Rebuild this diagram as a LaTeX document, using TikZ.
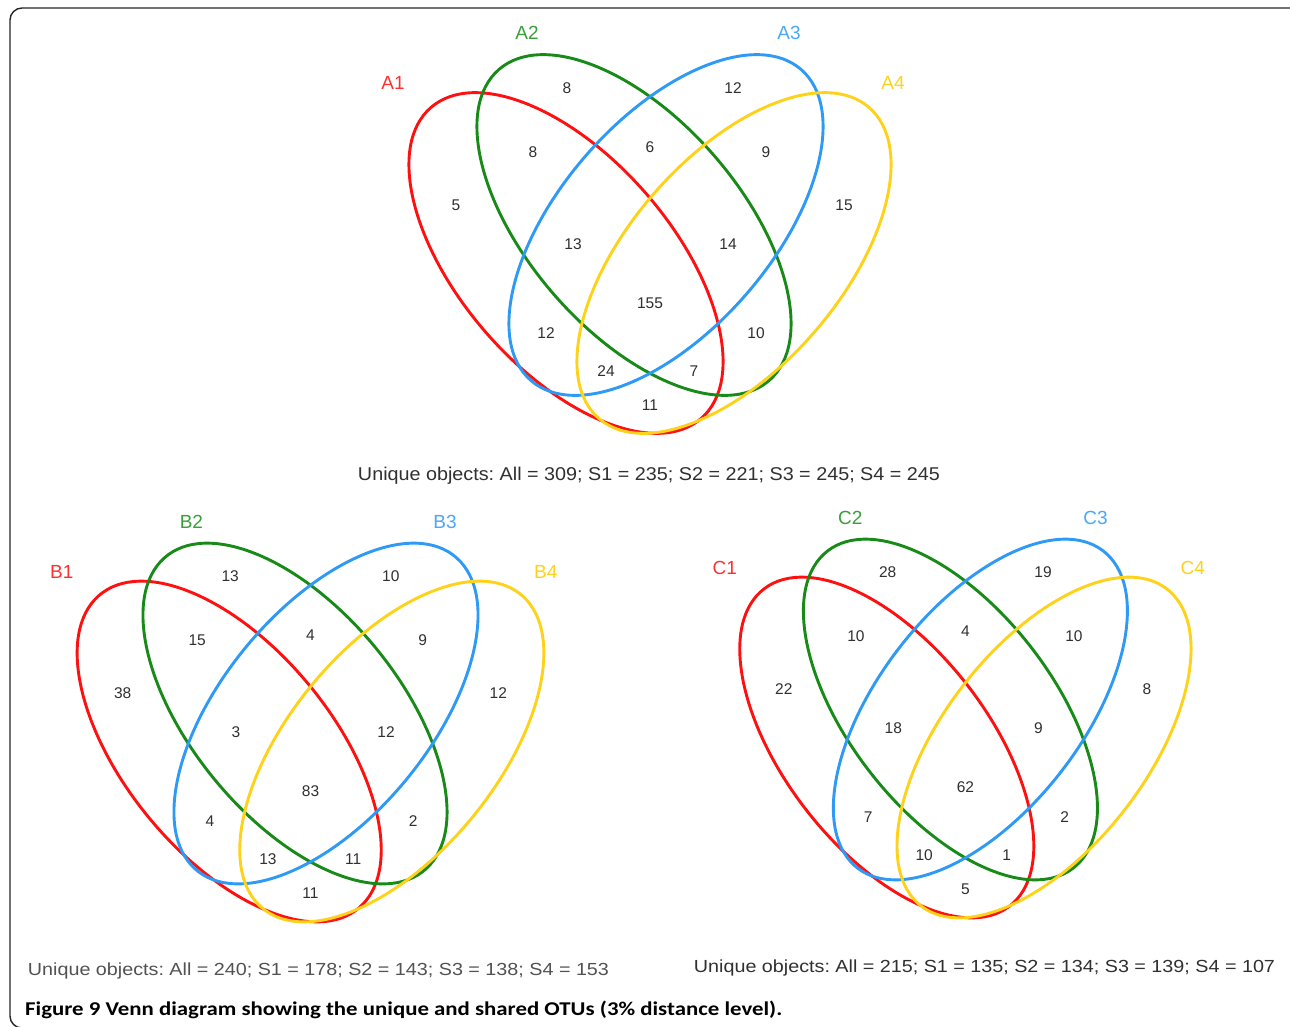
\documentclass[tikz,border=0pt]{standalone}
\usepackage{fontspec}
\usepackage{graphicx}
\setmainfont{Liberation Sans}
\newfontfamily\capfont{Carlito}
\usetikzlibrary{positioning}
\frenchspacing
\definecolor{vnred}{HTML}{FF1010}
\definecolor{vngreen}{HTML}{178A17}
\definecolor{vnblue}{HTML}{2E9AF5}
\definecolor{vnyellow}{HTML}{FFD21A}
\definecolor{lbred}{HTML}{FF3030}
\definecolor{lbgreen}{HTML}{3A9E3A}
\definecolor{lbblue}{HTML}{4AA8F5}
\definecolor{lbyellow}{HTML}{FFD21A}
\definecolor{numgray}{HTML}{303030}

% one four-set Venn: #1 name, #2 origin, #3 xscale, #4 region counts
\newcommand{\drawvenn}[4]{%
  \begin{scope}[shift={#2}, xscale=#3]
    \draw[ring, vnred, rotate around={-49:(-84,0)}] (-84,0) ellipse [x radius=206, y radius=106];
    \draw[ring, vngreen, rotate around={-49:(-16,38)}] (-16,38) ellipse [x radius=206, y radius=106];
    \draw[ring, vnblue, rotate around={49:(16,38)}] (16,38) ellipse [x radius=206, y radius=106];
    \draw[ring, vnyellow, rotate around={49:(84,0)}] (84,0) ellipse [x radius=206, y radius=106];
    \node[setlab, text=lbred] (#1-set1) at (-257,180) {#11};
    \node[setlab, text=lbgreen] (#1-set2) at (-123,230) {#12};
    \node[setlab, text=lbblue] (#1-set3) at (139,230) {#13};
    \node[setlab, text=lbyellow] (#1-set4) at (243,180) {#14};
    \foreach \px/\py [count=\i] in {-83/175, 83/175, -117/111, 0/116, 116/111,
        -194/58, 194/58, -77/19, 78/19, 0/-40, -104/-70, 106/-70, -44/-108, 44/-108, 0/-142}
      \coordinate (#1-r\i) at (\px,\py);
    \foreach \val [count=\i] in {#4}
      \node[num] (#1-n\i) at (#1-r\i) {\val};
  \end{scope}}

\begin{document}
\begin{tikzpicture}[x=1pt, y=1pt,
  ring/.style={line width=2.9pt},
  num/.style={text=numgray, font=\fontsize{15.5}{18}\selectfont, inner sep=0pt},
  setlab/.style={font=\fontsize{19}{22}\selectfont, inner sep=0pt},
  summary/.style={text=numgray, inner sep=0pt, anchor=base}]
  \useasboundingbox (0,0) rectangle (1290,-1026);
  \fill[white] (0,0) rectangle (1290,-1026);

  % frame
  \draw[line width=1.4pt, black!85, rounded corners=12pt] (10,-8) rectangle (1302,-1028);

  \drawvenn{A}{(650,-263)}{1}{8,12,8,6,9,5,15,13,14,155,12,10,24,7,11}
  \drawvenn{B}{(310.5,-751.5)}{0.968}{13,10,15,4,9,38,12,3,12,83,4,2,13,11,11}
  \drawvenn{C}{(965.4,-747.5)}{0.936}{28,19,10,4,10,22,8,18,9,62,7,2,10,1,5}

  \node[summary] (A-sum) at (649,-480.5)
    {\resizebox{582pt}{\height}{\fontsize{18.5}{21}\selectfont Unique objects: All = 309; S1 = 235; S2 = 221; S3 = 245; S4 = 245}};
  \node[summary, text=black!68] (B-sum) at (318.5,-975)
    {\resizebox{581pt}{\height}{\fontsize{17.5}{20}\selectfont Unique objects: All = 240; S1 = 178; S2 = 143; S3 = 138; S4 = 153}};
  \node[summary] (C-sum) at (984.5,-972.5)
    {\resizebox{581pt}{\height}{\fontsize{17.5}{20}\selectfont Unique objects: All = 215; S1 = 135; S2 = 134; S3 = 139; S4 = 107}};

  \node[anchor=base west, inner sep=0pt] (caption) at (25,-1015)
    {\resizebox{757pt}{\height}{\capfont\bfseries\fontsize{19.5}{22}\selectfont Figure 9 Venn diagram showing the unique and shared OTUs (3\% distance level).}};
\end{tikzpicture}
\end{document}
